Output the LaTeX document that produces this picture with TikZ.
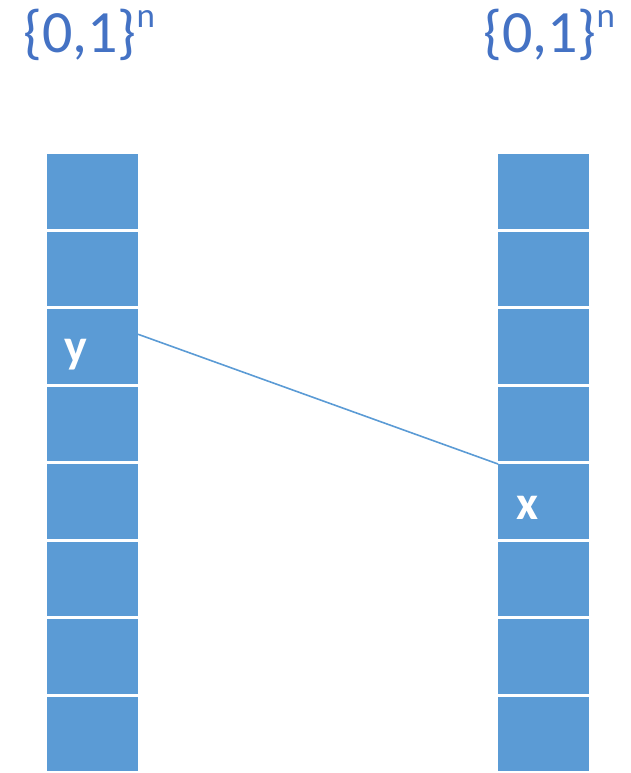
\documentclass[tikz,border=0pt]{standalone}
\usepackage{fontspec}
\setmainfont{Carlito}
\usetikzlibrary{positioning}
\definecolor{cellBlue}{HTML}{5B9BD5}
\definecolor{setBlue}{HTML}{4472C4}
\newcommand{\bitset}{\{0,1\}\raisebox{25pt}{\fontsize{35}{35}\selectfont n}}
\tikzset{
  cell/.style={rectangle, fill=cellBlue, minimum width=91pt, minimum height=74.5pt,
               inner sep=0pt, outer sep=0pt},
  cellLabel/.style={text=white, font=\fontsize{48}{48}\selectfont\bfseries,
                    inner sep=0pt, anchor=base west},
  setLabel/.style={text=setBlue, font=\fontsize{60}{60}\selectfont,
                   inner sep=0pt, anchor=base west},
  link/.style={cellBlue, line width=1.6pt},
}
\begin{document}
\begin{tikzpicture}[x=1pt, y=1pt, node distance=3pt]
    \useasboundingbox (0,0) rectangle (631,-773);
    % set labels
    \node[setLabel] (setL) at (23,-53) {\bitset};
    \node[setLabel] (setR) at (483,-53) {\bitset};
    % left column
    \node[cell] (l1) at (92.5,-191.25) {};
    \node[cell, below=of l1] (l2) {}; \node[cell, below=of l2] (l3) {};
    \node[cell, below=of l3] (l4) {}; \node[cell, below=of l4] (l5) {};
    \node[cell, below=of l5] (l6) {}; \node[cell, below=of l6] (l7) {};
    \node[cell, below=of l7] (l8) {};
    % right column
    \node[cell] (r1) at (543.5,-191.25) {};
    \node[cell, below=of r1] (r2) {}; \node[cell, below=of r2] (r3) {};
    \node[cell, below=of r3] (r4) {}; \node[cell, below=of r4] (r5) {};
    \node[cell, below=of r5] (r6) {}; \node[cell, below=of r6] (r7) {};
    \node[cell, below=of r7] (r8) {};
    \node[cellLabel] (ylab) at ([xshift=17pt, yshift=-16pt]l3.west) {y};
    \node[cellLabel] (xlab) at ([xshift=18pt, yshift=-18pt]r5.west) {x};
    \coordinate (yout) at ([yshift=12pt]l3.east);
    \draw[link] (yout) -- (r5.north west);
  \end{tikzpicture}
\end{document}
